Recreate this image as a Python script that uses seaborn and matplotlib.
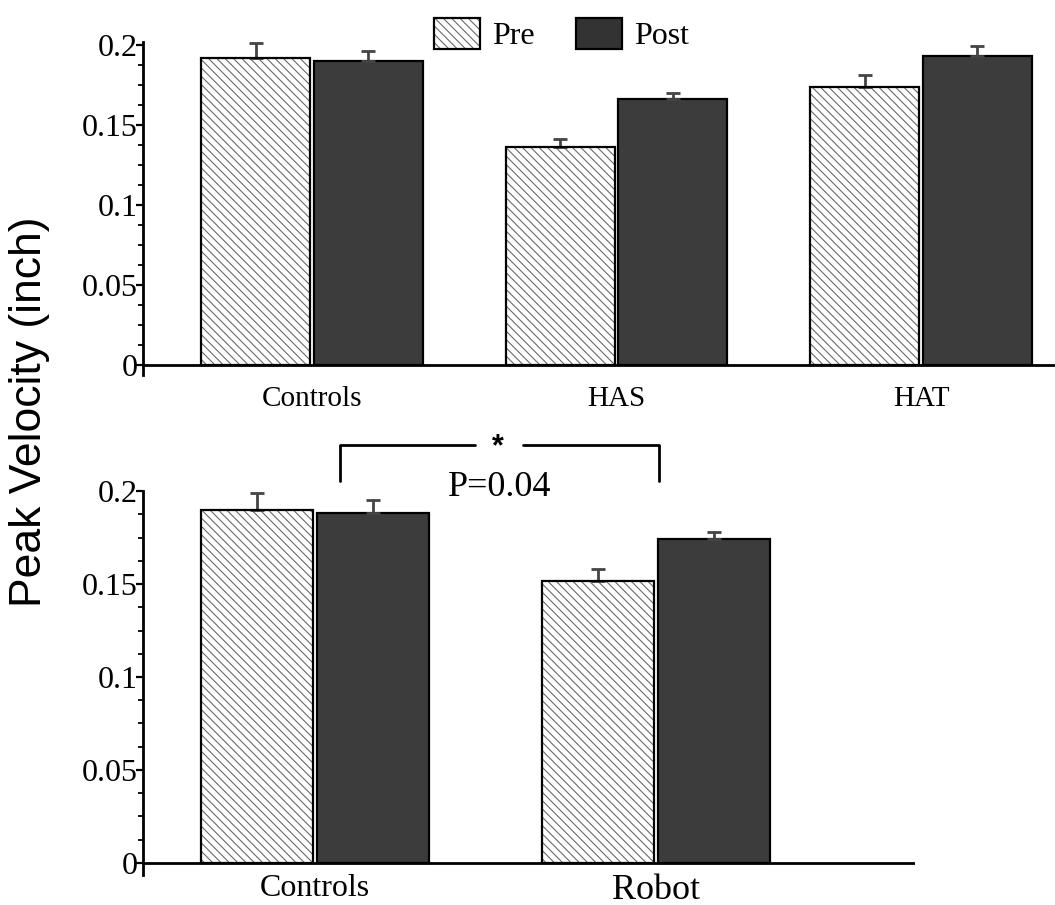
import pandas as pd
import matplotlib
matplotlib.use("Agg")
import matplotlib.pyplot as plt
import seaborn as sns
from matplotlib.patches import Patch, Rectangle
from matplotlib.legend_handler import HandlerTuple
from matplotlib.ticker import MultipleLocator

# ----------- données -----------
phases = ['Pre', 'Post']

top_groups = ['Controls', 'HAS', 'HAT']
top_pre = [0.192, 0.136, 0.1735]
top_post = [0.190, 0.166, 0.193]
top_pre_err = [0.009, 0.0055, 0.008]
top_post_err = [0.006, 0.004, 0.0065]

bot_groups = ['Controls', 'Robot']
bot_pre = [0.190, 0.1515]
bot_post = [0.188, 0.174]
bot_pre_err = [0.009, 0.0065]
bot_post_err = [0.007, 0.004]

ytick_vals = [0, 0.05, 0.1, 0.15, 0.2]
ytick_labels = ['0', '0.05', '0.1', '0.15', '0.2']

PRE_HATCH = r'\\\\'
POST_COLOR = '#3c3c3c'
SERIF = ['Liberation Serif', 'DejaVu Serif']
SANS = ['Liberation Sans', 'DejaVu Sans']

sns.set_theme(style='ticks')
plt.rcParams['font.family'] = SERIF
plt.rcParams['hatch.linewidth'] = 0.8
for key in ['text.color', 'xtick.color', 'ytick.color', 'axes.edgecolor', 'axes.labelcolor']:
    plt.rcParams[key] = 'black'


def make_df(groups, pre, post):
    rows = []
    for g, v in zip(groups, pre):
        rows.append({'group': g, 'phase': 'Pre', 'value': v})
    for g, v in zip(groups, post):
        rows.append({'group': g, 'phase': 'Post', 'value': v})
    return pd.DataFrame(rows)


def draw_panel(ax, groups, pre, post, pre_err, post_err, width, ylim, xlim):
    df = make_df(groups, pre, post)
    sns.barplot(data=df, x='group', y='value', hue='phase', hue_order=phases,
                order=groups, palette={'Pre': 'white', 'Post': POST_COLOR},
                width=width, gap=0.03, errorbar=None, legend=False,
                edgecolor='black', linewidth=1.6, ax=ax)
    bars = list(ax.patches)
    n = len(groups)
    for p in bars[:n]:
        # hachures grises + contour noir par-dessus
        p.set_hatch(PRE_HATCH)
        p.set_edgecolor('#6a6a6a')
        p.set_linewidth(0)
        ax.add_patch(Rectangle((p.get_x(), p.get_y()), p.get_width(), p.get_height(),
                               fill=False, edgecolor='black', linewidth=1.6, zorder=3))
    xs = [p.get_x() + p.get_width() / 2 for p in bars]
    ys = [p.get_height() for p in bars]
    errs = list(pre_err) + list(post_err)
    ax.errorbar(xs, ys, yerr=[[0] * len(errs), errs], fmt='none', ecolor='#444444',
                elinewidth=2, capsize=5, capthick=2, zorder=1)

    ax.set_ylim(*ylim)
    ax.set_xlim(*xlim)
    ax.axhline(0, color='black', linewidth=2, zorder=4)
    for s in ['top', 'right', 'bottom']:
        ax.spines[s].set_visible(False)
    ax.spines['left'].set_linewidth(2)
    ax.spines['left'].set_color('black')
    ax.set_yticks(ytick_vals)
    ax.set_yticklabels(ytick_labels)
    ax.yaxis.set_minor_locator(MultipleLocator(0.0125))
    ax.tick_params(axis='y', which='major', length=5, width=1.6, pad=-1.5, labelsize=23,
                   colors='black')
    ax.tick_params(axis='y', which='minor', length=3.5, width=1.3, colors='black')
    ax.tick_params(axis='x', length=0, colors='black')
    ax.set_xlabel('')
    ax.set_ylabel('')
    ax.grid(False)


fig = plt.figure(figsize=(10.55, 9.05), dpi=100)

ax1 = fig.add_axes([0.1355, 0.5861, 0.8645, 0.3678])
draw_panel(ax1, top_groups, top_pre, top_post, top_pre_err, top_post_err,
           0.74, (-0.006, 0.202), (-0.555, 2.44))
ax1.tick_params(axis='x', pad=8, labelsize=21)

ax2 = fig.add_axes([0.1355, 0.0331, 0.7318, 0.4243])
draw_panel(ax2, bot_groups, bot_pre, bot_post, bot_pre_err, bot_post_err,
           0.68, (-0.0065, 0.2), (-0.504, 1.76))
ax2.tick_params(axis='x', pad=-1)
lbls = ax2.get_xticklabels()
lbls[0].set_fontsize(23)
lbls[1].set_fontsize(26)

# crochet de significativité
br_x0, br_x1 = 0.073, 1.01
br_gap0, br_gap1 = 0.469, 0.61
br_top, br_low = 0.2248, 0.2054
ax2.plot([br_x0, br_x0, br_gap0], [br_low, br_top, br_top], color='black', lw=2, clip_on=False)
ax2.plot([br_gap1, br_x1, br_x1], [br_top, br_top, br_low], color='black', lw=2, clip_on=False)
ax2.text(0.537, 0.2235, '*', ha='center', va='center', fontsize=22, fontweight='bold',
         family=SANS)
ax2.text(0.542, 0.202, 'P=0.04', ha='center', va='center', fontsize=26)

# légende
pre_handle = (Patch(facecolor='white', edgecolor='#6a6a6a', hatch=PRE_HATCH, linewidth=0),
              Patch(fill=False, edgecolor='black', linewidth=1.6))
post_handle = Patch(facecolor='#333333', edgecolor='black', linewidth=1.6)
fig.legend([pre_handle, post_handle], phases, loc='center', bbox_to_anchor=(0.532, 0.962),
           ncol=2, frameon=False, fontsize=23, handlelength=1.44, handleheight=1.16,
           handletextpad=0.38, columnspacing=1.29,
           handler_map={tuple: HandlerTuple(ndivide=1, pad=0)})

fig.text(0.028, 1 - 412 / 905, 'Peak Velocity (inch)', rotation=90, ha='center',
         va='center', fontsize=32, family=SANS)

fig.savefig('out.png', dpi=100)
